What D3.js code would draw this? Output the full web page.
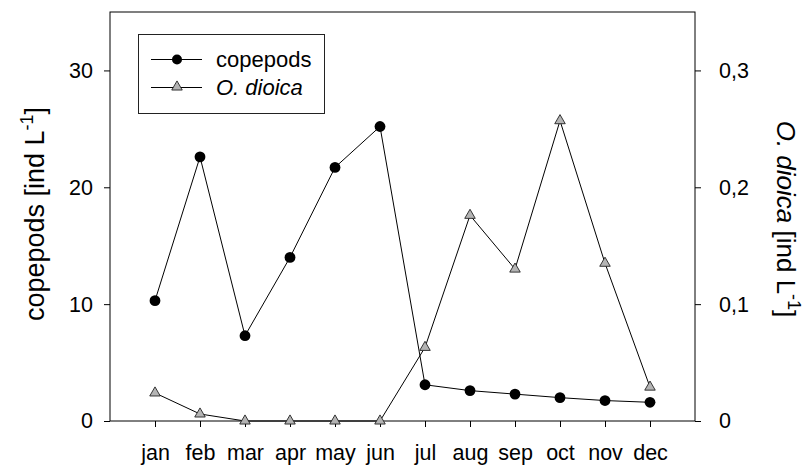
<!DOCTYPE html>
<html>
<head>
<meta charset="utf-8">
<script src="https://cdn.jsdelivr.net/npm/d3@7"></script>
<style>
  body { margin: 0; background: #fff; }
  svg text { font-family: "Liberation Sans", Arial, sans-serif; fill: #000; }
  .axis path, .axis line { stroke: #000; stroke-width: 1; }
</style>
</head>
<body>
<div id="chart"></div>
<script>
// data
const months = ['jan', 'feb', 'mar', 'apr', 'may', 'jun', 'jul', 'aug', 'sep', 'oct', 'nov', 'dec']
const copepods = [10.3, 22.6, 7.3, 14.0, 21.7, 25.2, 3.1, 2.6, 2.3, 2.0, 1.75, 1.6]
const dioica = [0.024, 0.006, 0, 0, 0, 0, 0.063, 0.176, 0.130, 0.257, 0.135, 0.029]
const leftTicks = [0, 10, 20, 30]
const rightTicks = [0, 0.1, 0.2, 0.3]

const width = 809,
      height = 465,
      plotLeft = 110,
      plotRight = 695,
      plotTop = 12,
      plotBottom = 421,
      tickFont = '21.5px'

let svg = d3.select('#chart')
  .append('svg')
  .attr('width', width)
  .attr('height', height)

let x = d3.scaleLinear().domain([0, 13]).range([plotLeft, plotRight])
let yL = d3.scaleLinear().domain([0, 35]).range([plotBottom, plotTop])
let yR = d3.scaleLinear().domain([0, 0.35]).range([plotBottom, plotTop])

// frame
svg.append('rect')
  .attr('x', plotLeft).attr('y', plotTop)
  .attr('width', plotRight - plotLeft).attr('height', plotBottom - plotTop)
  .attr('fill', 'none').attr('stroke', '#000')

// axes
svg.append('g')
  .attr('class', 'axis')
  .attr('transform', `translate(${plotLeft},0)`)
  .call(d3.axisLeft(yL).tickValues(leftTicks).tickSize(6).tickPadding(11))
  .call(g => g.select('.domain').remove())
  .selectAll('text').style('font-size', tickFont)

svg.append('g')
  .attr('class', 'axis')
  .attr('transform', `translate(${plotRight},0)`)
  .call(d3.axisRight(yR).tickValues(rightTicks).tickSize(6).tickPadding(18)
    .tickFormat(d => d === 0 ? '0' : d3.format('.1f')(d).replace('.', ',')))
  .call(g => g.select('.domain').remove())
  .selectAll('text').style('font-size', tickFont)

svg.append('g')
  .attr('class', 'axis')
  .attr('transform', `translate(0,${plotBottom})`)
  .call(d3.axisBottom(x).tickValues(d3.range(1, 13)).tickSize(6).tickPadding(18)
    .tickFormat(d => months[d - 1]))
  .call(g => g.select('.domain').remove())
  .selectAll('text').style('font-size', tickFont)

// axis titles
let lt = svg.append('text')
  .attr('transform', 'translate(44,214) rotate(-90)')
  .attr('text-anchor', 'middle')
  .style('font-size', '27px')
lt.append('tspan').text('copepods [ind L')
lt.append('tspan').text('-1').attr('dy', -11).style('font-size', '18px')
lt.append('tspan').text(']').attr('dy', 11)

let rt = svg.append('text')
  .attr('transform', 'translate(777,219) rotate(90)')
  .attr('text-anchor', 'middle')
  .style('font-size', '26px')
rt.append('tspan').text('O. dioica').style('font-style', 'italic')
rt.append('tspan').text(' [ind L')
rt.append('tspan').text('-1').attr('dy', -11).style('font-size', '18px')
rt.append('tspan').text(']').attr('dy', 11)

// lines
let lineL = d3.line().x((d, i) => x(i + 1)).y(d => yL(d))
let lineR = d3.line().x((d, i) => x(i + 1)).y(d => yR(d))

svg.append('path').datum(dioica).attr('d', lineR)
  .attr('fill', 'none').attr('stroke', '#000').attr('stroke-width', 1)
svg.append('path').datum(copepods).attr('d', lineL)
  .attr('fill', 'none').attr('stroke', '#000').attr('stroke-width', 1)

let tri = d3.symbol().type(d3.symbolTriangle).size(48)

svg.selectAll('.tri').data(dioica).enter()
  .append('path').attr('class', 'tri')
  .attr('d', tri)
  .attr('transform', (d, i) => `translate(${x(i + 1)},${yR(d)})`)
  .attr('fill', '#b4b4b4').attr('stroke', '#222').attr('stroke-width', 0.9)

svg.selectAll('.dot').data(copepods).enter()
  .append('circle').attr('class', 'dot')
  .attr('cx', (d, i) => x(i + 1))
  .attr('cy', d => yL(d))
  .attr('r', 5.4)
  .attr('fill', '#000')

// legend
let lg = svg.append('g')
lg.append('rect')
  .attr('x', 138.5).attr('y', 34.5).attr('width', 186).attr('height', 79)
  .attr('fill', '#fff').attr('stroke', '#222')

lg.append('line').attr('x1', 151).attr('x2', 202).attr('y1', 59.5).attr('y2', 59.5).attr('stroke', '#000')
lg.append('circle').attr('cx', 177).attr('cy', 59.5).attr('r', 5).attr('fill', '#000')
lg.append('text').attr('x', 216).attr('y', 67).style('font-size', '22px').text('copepods')

lg.append('line').attr('x1', 151).attr('x2', 202).attr('y1', 87.5).attr('y2', 87.5).attr('stroke', '#000')
lg.append('path').attr('d', tri).attr('transform', 'translate(177,87)')
  .attr('fill', '#b4b4b4').attr('stroke', '#222').attr('stroke-width', 0.9)
lg.append('text').attr('x', 216).attr('y', 95).style('font-size', '22px')
  .style('font-style', 'italic').text('O. dioica')
</script>
</body>
</html>
